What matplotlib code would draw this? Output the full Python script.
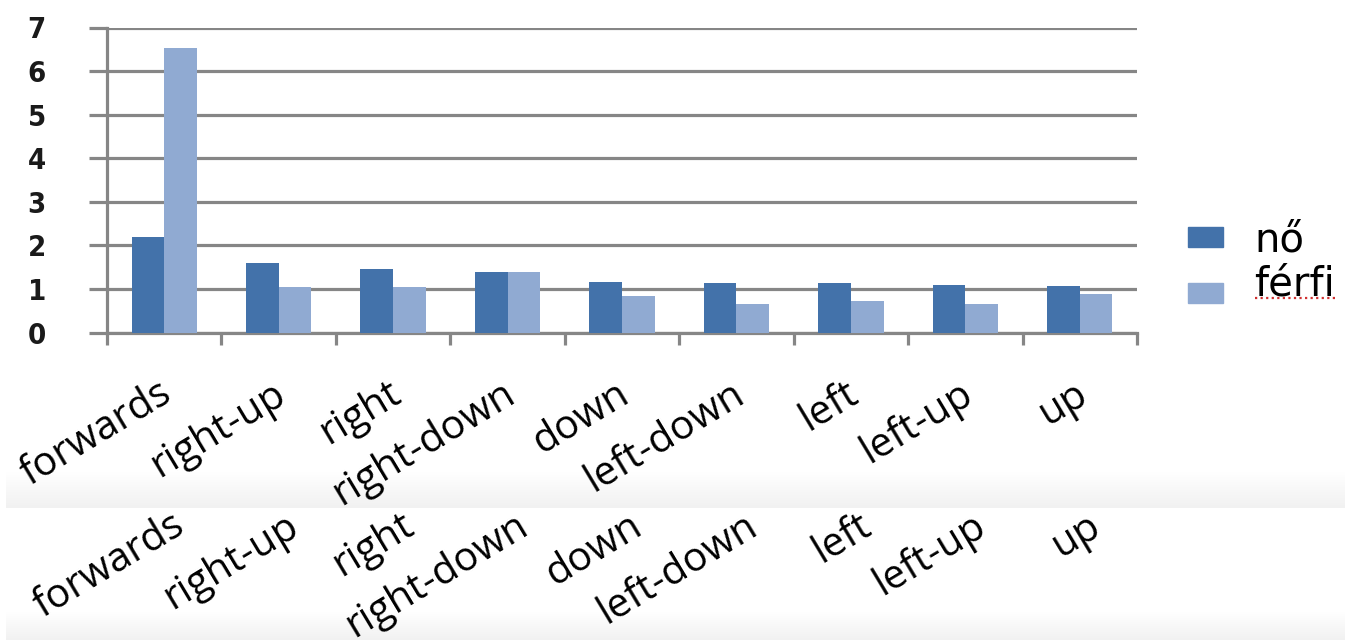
import numpy as np
import matplotlib
matplotlib.use('Agg')
import matplotlib.pyplot as plt
from matplotlib.transforms import ScaledTranslation
from matplotlib.patches import Rectangle
from matplotlib.lines import Line2D

# mean scores per direction, split by gender
directions = ['forwards', 'right-up', 'right', 'right-down', 'down',
              'left-down', 'left', 'left-up', 'up']
no = [2.19, 1.59, 1.46, 1.40, 1.17, 1.13, 1.13, 1.10, 1.06]
ferfi = [6.52, 1.04, 1.04, 1.40, 0.84, 0.66, 0.73, 0.66, 0.89]
series_names = ['nő', 'férfi']
yticks = list(range(8))

DARK = '#4372aa'
LIGHT = '#90aad2'
GRID = '#868686'

W, H = 1345, 640
fig = plt.figure(figsize=(W / 100, H / 100), dpi=100)


def fx(px):
    return px / W


def fy(py):
    return 1 - py / H


# faint grey shading under each row of labels
bg = fig.add_axes([0, 0, 1, 1], zorder=-10)
bg.set_xlim(0, W)
bg.set_ylim(H, 0)
bg.axis('off')
shade = np.linspace(1.0, 0.945, 64)[:, None, None] * np.ones((1, 1, 3))
bg.imshow(shade, extent=[6, W, 508, 472], aspect='auto', interpolation='bilinear')
bg.imshow(shade, extent=[6, W, 640, 612], aspect='auto', interpolation='bilinear')

ax = fig.add_axes([fx(107), fy(332.5), fx(1137) - fx(107), fy(27.5) - fy(332.5)])
ax.set_facecolor('none')
x = np.arange(len(directions))
bw = 0.285
ax.bar(x - bw / 2, no, bw, color=DARK, zorder=3)
ax.bar(x + bw / 2, ferfi, bw, color=LIGHT, zorder=3)

ax.set_xlim(-0.5, len(directions) - 0.5)
ax.set_ylim(0, 7)
ax.set_yticks(yticks)
ax.yaxis.grid(True, color=GRID, lw=2.3)
ax.set_axisbelow(True)
for s in ['top', 'right']:
    ax.spines[s].set_visible(False)
for s in ['left', 'bottom']:
    ax.spines[s].set_color(GRID)
    ax.spines[s].set_linewidth(2.3)

ax.tick_params(axis='y', direction='out', length=13, width=2.3, color=GRID,
               pad=31, labelsize=21, labelcolor='#1a1a1a')
for lab in ax.get_yticklabels():
    lab.set_fontweight('bold')
    lab.set_fontstretch('condensed')

label_font = dict(rotation=31, ha='right', va='top', fontsize=29,
                  family='Open Sans', color='black')
ax.set_xticks(x)
ax.set_xticks(np.arange(-0.5, len(directions)), minor=True)
ax.set_xticklabels(directions, **label_font)
ax.tick_params(axis='x', which='major', length=0, pad=29.5)
ax.tick_params(axis='x', which='minor', direction='out', length=8.6,
               width=2.3, color=GRID)
shift = ScaledTranslation(15 / 100, 0, fig.dpi_scale_trans)
for lab in ax.get_xticklabels():
    lab.set_transform(lab.get_transform() + shift)

# repeated row of category names further down
row2 = ax.get_xaxis_transform() + ScaledTranslation(28 / 100, -173 / 100,
                                                    fig.dpi_scale_trans)
for i, name in enumerate(directions):
    ax.text(i, 0, name, transform=row2, clip_on=False, **label_font)

# legend: colour swatch and name for each series
swatch_tops = [227, 283]
for top, color, name in zip(swatch_tops, [DARK, LIGHT], series_names):
    fig.patches.append(Rectangle((fx(1188), fy(top + 20)), fx(35), 20 / H,
                                 transform=fig.transFigure, color=color))
    fig.text(fx(1254), fy(top + 24 if name == 'nő' else top + 12), name,
             family='DejaVu Sans', fontsize=29, va='baseline', ha='left')

# spell-check squiggle under the second legend entry
fig.add_artist(Line2D([fx(1255), fx(1338)], [fy(298), fy(298)],
                      transform=fig.transFigure, color='#d03030', lw=1.6,
                      ls=(0, (1, 1.5))))

fig.savefig('out.png', dpi=100)
